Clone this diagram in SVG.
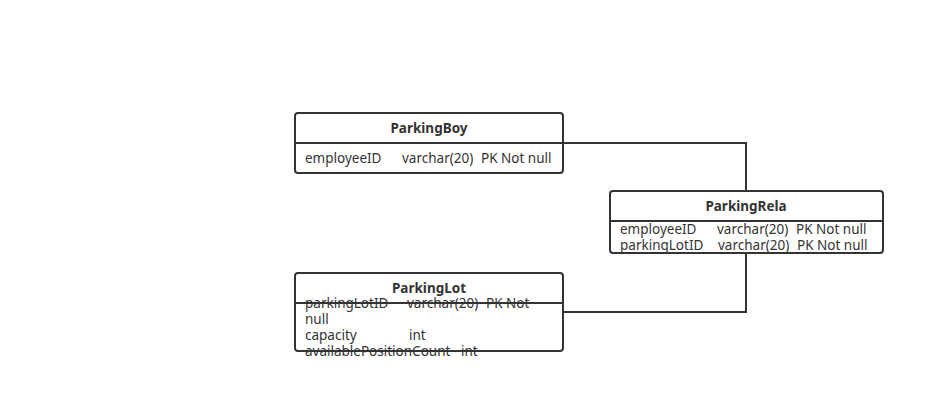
<svg xmlns="http://www.w3.org/2000/svg" width="945" height="413" viewBox="0 0 945 413">
<style>
.box{fill:#fff;stroke:#333;stroke-width:2}
.sep{stroke:#333;stroke-width:2}
.t{font-family:"Noto Sans","Open Sans",sans-serif;font-size:13.5px;fill:#333}
.h{font-family:"Noto Sans","Open Sans",sans-serif;font-size:13.5px;font-weight:bold;fill:#333;text-anchor:middle}
.c{fill:none;stroke:#333;stroke-width:2}
</style>
<rect width="945" height="413" fill="#fff"/>
<g id="connectors">
<path class="c" d="M563 143H746V191"/>
<path class="c" d="M746 253V312H563"/>
</g>
<g id="ParkingBoy">
<rect class="box" x="295" y="113" width="268" height="60" rx="3"/>
<line class="sep" x1="295" y1="143" x2="563" y2="143"/>
<text class="h" x="429" y="133">ParkingBoy</text>
<text class="t" x="305" y="163">employeeID</text>
<text class="t" x="402" y="163">varchar(20)</text>
<text class="t" x="481" y="163">PK Not null</text>
</g>
<g id="ParkingRela">
<rect class="box" x="610" y="191" width="273" height="62" rx="3"/>
<line class="sep" x1="610" y1="221" x2="883" y2="221"/>
<text class="h" x="746" y="211">ParkingRela</text>
<text class="t" x="620" y="234">employeeID</text>
<text class="t" x="717" y="234">varchar(20)</text>
<text class="t" x="796" y="234">PK Not null</text>
<text class="t" x="620" y="250">parkingLotID</text>
<text class="t" x="718" y="250">varchar(20)</text>
<text class="t" x="797" y="250">PK Not null</text>
</g>
<g id="ParkingLot">
<rect class="box" x="295" y="273" width="268" height="78" rx="3"/>
<line class="sep" x1="295" y1="303" x2="563" y2="303"/>
<text class="h" x="429" y="293">ParkingLot</text>
<text class="t" x="305" y="308">parkingLotID</text>
<text class="t" x="407" y="308">varchar(20)</text>
<text class="t" x="486" y="308">PK Not</text>
<text class="t" x="305" y="324">null</text>
<text class="t" x="305" y="340">capacity</text>
<text class="t" x="409" y="340">int</text>
<text class="t" x="305" y="356">availablePositionCount</text>
<text class="t" x="461" y="356">int</text>
</g>
</svg>
